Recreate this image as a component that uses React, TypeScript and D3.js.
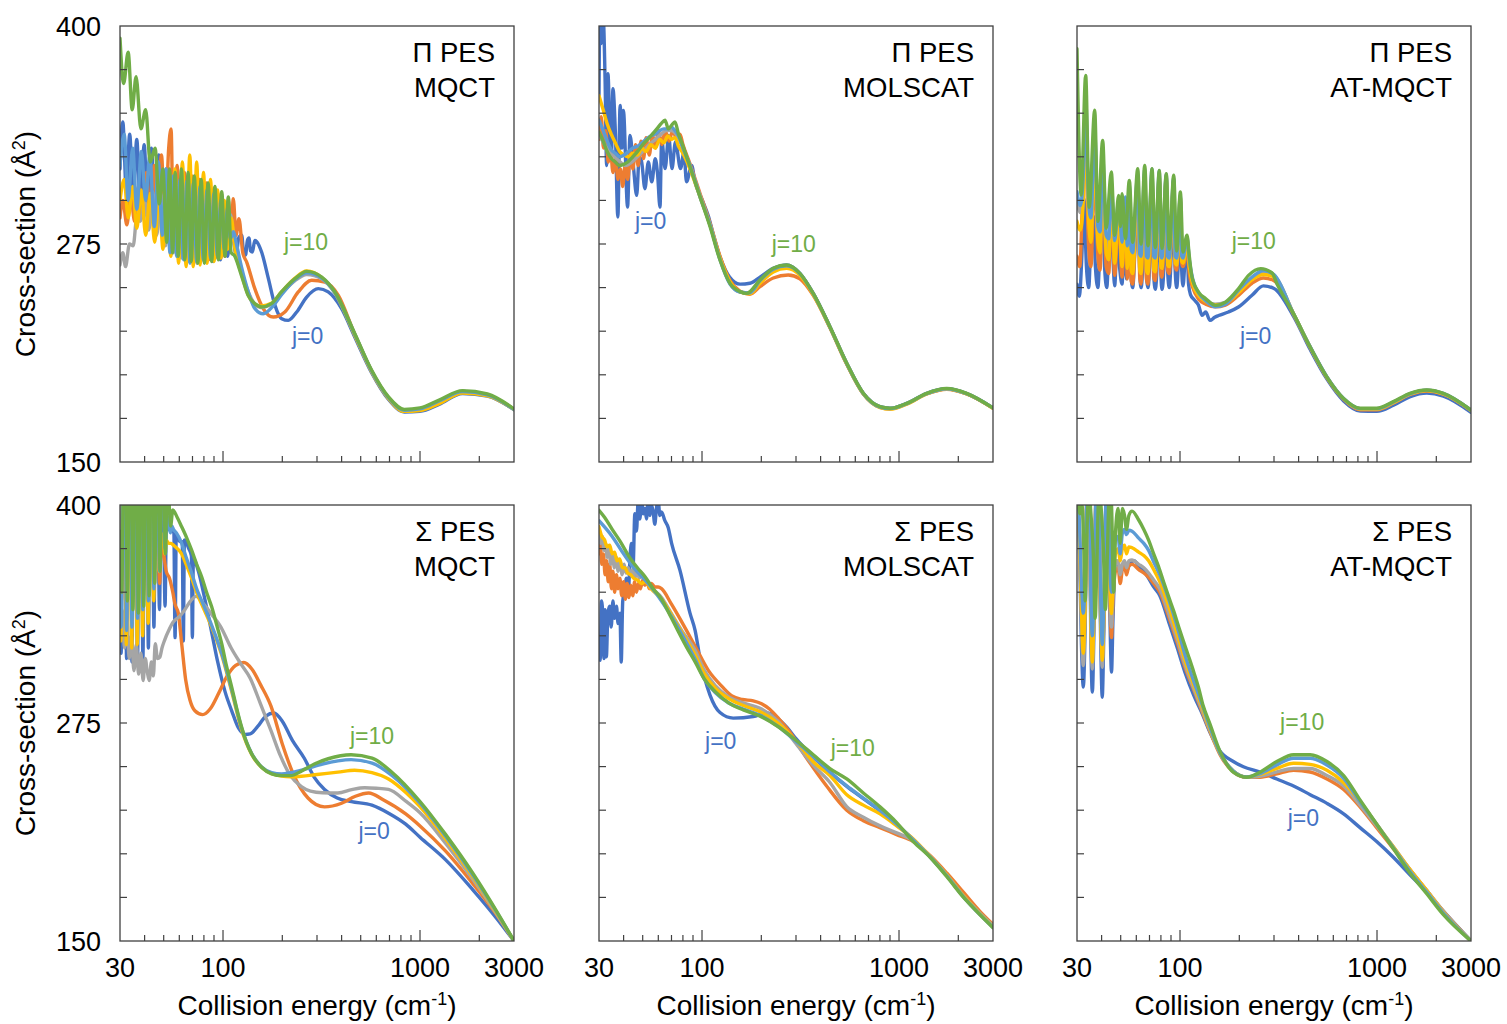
import React from 'react';
import * as d3 from 'd3';

type Pt = [number, number];

const COLORS = ['#4472C4', '#ED7D31', '#A5A5A5', '#FFC000', '#5B9BD5', '#70AD47'];
const Y_TICKS = [175, 200, 225, 250, 275, 300, 325, 350, 375];
const Y_LABELS = [150, 275, 400];
const X_MINOR = [40, 50, 60, 70, 80, 90, 200, 300, 400, 500, 600, 700, 800, 900, 2000];
const X_MAJOR = [100, 1000];
const X_LABELS = [30, 100, 1000, 3000];

// ---------- Π PES, MQCT ----------
const piMqctJ0: Pt[] = [[30,318],[31,345],[32.3,305],[33.6,338],[35,300],[36.5,335],[38,296],[39.8,332],[41.5,292],[43.3,330],[45.2,288],[47.2,326],[49.3,282],[51.4,318],[53.6,276],[56,314],[58.4,272],[61,312],[63.6,268],[66.3,310],[69.2,266],[72.2,308],[75.3,265],[78.5,306],[82,265],[85.5,304],[89.2,265],[93,302],[97,266],[101,298],[105.5,268],[110,286],[112.8,278],[116.5,269],[120.5,279],[124.4,280],[127,271],[130,268.5],[133,277],[135.5,278.4],[138,271],[141,270.4],[145,277],[148,276.5],[157,270.4],[170,255.1],[183.6,239.8],[198.5,232.2],[214.6,231.2],[236.6,236],[265.9,244.6],[304.7,249.4],[342,247.5],[400,237.9],[465,222],[566,201.5],[690,186],[832,178.7],[1000,179],[1250,183],[1646,189.3],[2200,187.8],[3000,180]];
const piMqctJ2: Pt[] = [[30,290],[31,300],[32.5,286],[34,303],[35.6,288],[37.2,308],[39,290],[40.8,316],[42.7,292],[44.6,320],[46.6,290],[48.7,326],[50.8,285],[53,330],[54.5,341],[56,278],[58.5,320],[61,272],[63.7,316],[66.5,268],[69.5,314],[72.5,266],[75.7,312],[79,266],[82.5,310],[86,266],[90,307],[94,267],[98,304],[102,268],[106.5,300],[109.5,276],[112.8,301],[116.5,280],[120.5,289.5],[126,270],[132,264.5],[145,249.4],[160,238],[180,233.1],[206,236],[241,247.5],[282,254.2],[329,253.2],[385,245.6],[465,223.5],[566,202.5],[690,187],[832,179.5],[1000,180],[1250,184.5],[1646,190.5],[2200,188.5],[3000,180.2]];
const piMqctJ4: Pt[] = [[30,263],[31,270],[32,262],[33.5,275],[35,274],[36.5,290],[38,288],[40,300],[42,283],[44,305],[46,280],[48.5,304],[51,274],[53.5,306],[56,270],[58.8,308],[61.5,267],[64.4,310],[67.4,265],[70.5,310],[73.7,264],[77,308],[80.5,265],[84,306],[88,266],[92,303],[96,268],[100,298],[104.5,272],[109,292],[114,276],[120,266],[130,252],[142,242],[155,238.5],[176,240.5],[198,246.5],[232,254],[266,257.5],[317,255],[370,247],[465,223.5],[566,202.5],[690,187],[832,179.7],[1000,180.5],[1250,185],[1646,190.4],[2200,188.5],[3000,180.2]];
const piMqctJ6: Pt[] = [[30,300],[31.5,312],[33,290],[34.8,308],[36.5,284],[38.5,306],[40.5,280],[42.7,304],[45,276],[47.3,302],[49.6,272],[52,300],[54.4,268],[57,318],[59.5,264],[62.2,322],[65,262],[67.8,326],[70.6,262],[73.5,322],[76.5,263],[79.6,316],[83,264],[86.4,312],[90,265],[93.8,306],[97.6,267],[101.5,300],[105.6,272],[110,290],[115,272],[124,258],[134,246],[145,240.5],[157,239.5],[176,241],[198,247.5],[232,255.5],[266,259.5],[317,255.8],[370,247],[465,223],[566,202],[690,186.5],[832,179],[1000,179.5],[1250,183.5],[1646,189.5],[2200,188],[3000,180]];
const piMqctJ8: Pt[] = [[30,320],[31.5,338],[33,300],[34.8,330],[36.5,295],[38.5,328],[40.5,300],[42.5,326],[44.8,285],[47,322],[49.2,280],[51.5,318],[53.8,270],[56,314],[58.2,268],[60.5,312],[63,266],[65.5,311],[68,264],[70.8,310],[73.5,265],[76.5,308],[79.5,266],[83,306],[86.5,267],[90,304],[93.8,268],[97.5,300],[101.5,272],[105.5,296],[109,278],[113,282],[117,275],[124,262],[134,248],[145,238],[160,235],[178,239],[200,246.5],[232,254.5],[266,258.5],[317,255.5],[370,247],[465,223.5],[566,202.5],[690,187],[832,179.7],[1000,180.5],[1250,185],[1646,190.4],[2200,188.5],[3000,180]];
const piMqctJ10: Pt[] = [[30,393],[31.3,367],[33,385],[34.6,352],[36.2,371],[38.3,341],[40.5,352],[42.7,322],[45.2,330],[47.5,298],[49.5,318],[51.8,276],[53.5,318],[55.5,270],[57.2,316],[59.3,268],[61.5,318],[64,266],[66.5,316],[69,265],[71.5,314],[74.5,264],[77.5,312],[80.5,264],[84,310],[87.6,265],[91,308],[94.7,266],[98.5,305],[102.4,268],[106.4,302],[110,270],[114,268.5],[124,257],[134,245.6],[145,240.8],[157,238.9],[176,240.8],[198,247.5],[232,255.1],[266,259.3],[317,256],[370,247.5],[465,224],[566,203],[690,187.5],[832,180.2],[1000,181],[1250,185.5],[1646,190.9],[2200,189],[3000,180.4]];

// ---------- Π PES, MOLSCAT ----------
const piMolJ0: Pt[] = [[30,360],[30.3,405],[30.8,390],[31.5,405],[32.2,370],[32.8,320],[33.3,372.7],[34,345],[34.7,325.8],[35.3,364.1],[36.3,340],[37.4,290.5],[38.4,354.5],[39.2,330],[39.9,351.6],[41.9,296.2],[43.1,337.3],[44.8,320],[46.6,302.9],[48,325],[49.4,322],[51.3,306.7],[53.4,322],[55.6,310.6],[57.9,323.9],[59.5,315],[61.2,296.2],[62.4,335.4],[65,318.2],[67.7,337.3],[70.4,318.2],[73.3,333.5],[77.8,318.2],[81,327.8],[83.4,310.6],[88.6,320],[92.1,310.6],[99.6,301],[107.7,291],[115,279],[124,267],[138,256],[156,252],[175,252.5],[197,256],[230,261],[269,263],[314,258.2],[367,246.7],[446,227.6],[543,206.6],[659,189.4],[801,181.7],[900,180.8],[1094,183.6],[1382,189.4],[1746,192],[2206,189.2],[3000,181]];
const piMolJ2: Pt[] = [[30,335],[30.8,348],[31.6,330],[32.5,340],[33.4,322],[34.3,330],[35.3,316],[36.4,324],[37.4,312],[38.5,318],[39.6,308],[40.7,320],[42,312],[43.3,328],[44.6,318],[46,332],[47.4,320],[49,334],[50.5,324],[52,336],[54,326],[56,338],[58,330],[60,340],[62.5,332],[65,340],[68,334],[71,340],[74,336],[77.3,338],[80,332],[86.9,321],[97.7,304],[109.8,287],[123.4,268],[138.7,254],[155.9,248],[175,246.2],[197,250.5],[230,255.5],[274,257.2],[314,255],[367,245.5],[446,227],[543,206],[659,189],[801,181.3],[900,180.4],[1094,183.3],[1382,189],[1746,191.7],[2206,189],[3000,180.8]];
const piMolJ4: Pt[] = [[30,338],[32,332],[34,328],[36,325],[38.5,322],[41,320],[44,322],[47,325],[50,328],[54,332],[58,335],[62,338],[66,340],[70,340],[74,338],[80,330],[86.9,320],[97.7,303],[109.8,286],[123.4,266.5],[138.7,252.5],[155.9,247.5],[175,247],[197,253.5],[230,260],[269,262],[314,257.8],[367,246.5],[446,227.4],[543,206.4],[659,189.2],[801,181.5],[900,180.6],[1094,183.5],[1382,189.2],[1746,192],[2206,189.2],[3000,181]];
const piMolJ6: Pt[] = [[30,360],[31.5,352],[33,344],[34.6,338],[36.3,333],[38.2,328],[40.2,326],[42.3,325],[44.6,327],[47,326],[49.5,330],[52,328],[55,332],[58,330],[61,335],[64,333],[67,337],[70,335],[73,336],[76,331],[80,327],[86.9,318],[97.7,302],[109.8,286],[123.4,267],[138.7,253.5],[155.9,247.5],[175,246.5],[197,252.5],[230,259],[269,261],[314,257],[367,246],[446,227.2],[543,206.2],[659,189],[801,181.2],[900,180.3],[1094,183.2],[1382,189],[1746,191.8],[2206,189],[3000,180.8]];
const piMolJ8: Pt[] = [[30,346],[31.5,340],[33,334],[34.6,329],[36.3,327],[38.2,325],[40.2,326],[42.3,328],[44.6,330],[47,331],[49.5,333],[52,335],[55,337],[58,338],[61,340],[64,341],[67,341],[70,342],[73,340],[76,337],[80,330],[86.9,320],[97.7,302],[109.8,286],[123.4,266],[138.7,252],[155.9,247.5],[175,247],[197,254],[230,260.5],[269,262.5],[314,258],[367,246.5],[446,227.4],[543,206.4],[659,189.2],[801,181.5],[900,180.6],[1094,183.5],[1382,189.2],[1746,192],[2206,189.2],[3000,181]];
const piMolJ10: Pt[] = [[30,339],[31.5,334],[33,328],[34.6,324],[36.3,322],[38,320],[39.8,320.5],[42,322],[44.5,325],[47,328],[50,332],[53,335],[56,338],[59,341],[62,344],[64.9,346],[67.5,341],[70,343],[72.9,345],[76,338],[79,333],[86.9,319.3],[97.7,302.1],[109.8,285],[123.4,265.8],[138.7,252.4],[155.9,247.7],[168.6,246.7],[197,254.4],[230,261.1],[269,263],[314,258.2],[367,246.7],[446,227.6],[543,206.6],[659,189.4],[801,181.7],[900,180.8],[1094,183.6],[1382,189.4],[1746,192.2],[2206,189.4],[3000,181]];

// ---------- Π PES, AT-MQCT ----------
const piAtJ0: Pt[] = [[30,252],[30.8,245],[31.8,270],[32.5,301],[33.5,262],[34.4,250],[35.5,285],[36.3,291],[37.2,262],[38.3,250],[39.5,282],[40.5,290],[41.5,260],[42.5,250],[44,285],[45.5,270],[46.6,251],[48,280],[49.5,260],[50.8,252],[52,278],[53.5,255],[55.3,300],[56.5,256],[57.5,250],[59,270],[61,310],[62.5,258],[63.4,250],[65,270],[66.2,312],[67.5,258],[68.8,250],[70.5,270],[72.1,312],[73.5,258],[74.9,249],[77,272],[78.5,312],[80,258],[81,249],[83.5,272],[85.2,314],[86.5,260],[88.2,250],[90.5,272],[92.9,312],[94.5,260],[96.2,250],[98.5,270],[100.4,300],[102,260],[103.6,251],[106,265],[108.5,275],[110.5,252],[113,246],[118,243],[124,240],[129.4,234.1],[135,236],[142,231.2],[150,233],[157,234],[176,236],[198,238.9],[232,245.6],[265,251],[300,249.5],[377,233.5],[458,214.5],[557,197.5],[677,185],[822,179.2],[998,179],[1212,182.5],[1475,187.5],[1790,189.5],[2172,187.8],[3000,178.5]];
const piAtJ2: Pt[] = [[30,268],[31,262],[32,300],[33.2,330],[34.3,275],[35.3,262],[36.9,320],[38.3,268],[39.3,260],[40.5,310],[42.2,262],[43.5,258],[44.8,300],[46.6,257],[48.8,290],[50.8,256],[52.8,295],[54,255],[55.3,305],[56.5,254],[57.5,252],[61,310],[62.5,255],[63.4,252],[66.2,312],[67.5,255],[68.8,252],[72.1,312],[73.5,256],[74.9,254],[78.5,312],[80,258],[81,256],[85.2,312],[86.5,260],[88.2,258],[92.9,310],[94.5,262],[96.2,260],[100.4,300],[102,264],[103.6,262],[108.5,272],[111.5,258],[116,250],[125,243],[135,240.5],[151,239],[170,240],[198,245.5],[232,252.5],[265,255.5],[300,254],[377,234.5],[458,215.5],[557,198.3],[677,186],[822,180],[998,180],[1212,183.8],[1475,188.7],[1790,190.7],[2172,188.9],[3000,179.5]];
const piAtJ4: Pt[] = [[30,300],[31.2,293],[32.3,310],[33.2,350],[34.3,295],[35.3,282],[36.9,335],[38.3,280],[39.3,275],[40.5,320],[42.2,274],[43.5,271],[44.8,308],[46.6,269],[48.8,298],[50.8,268],[52.8,300],[54,267],[55.3,308],[56.5,266],[57.5,265],[61,314],[62.5,266],[63.4,265],[66.2,316],[67.5,266],[68.8,265],[72.1,316],[73.5,266],[74.9,265],[78.5,315],[80,266],[81,265],[85.2,314],[86.5,266],[88.2,265],[92.9,312],[94.5,266],[96.2,265],[100.4,302],[102,266],[103.6,265],[108.5,278],[111.5,265],[116,254],[125,246],[135,242.5],[151,240.5],[170,241.5],[198,248],[232,255.5],[265,259],[300,257],[377,235],[458,216],[557,198.7],[677,186.3],[822,180.5],[998,180.5],[1212,184.2],[1475,189.1],[1790,191.1],[2172,189.2],[3000,179.7]];
const piAtJ6: Pt[] = [[30,288],[31.2,283],[32.3,300],[33.2,345],[34.3,290],[35.3,276],[36.9,330],[38.3,276],[39.3,270],[40.5,318],[42.2,270],[43.5,266],[44.8,305],[46.6,264],[48.8,295],[50.8,262],[52.8,298],[54,261],[55.3,306],[56.5,260],[57.5,258],[61,312],[62.5,260],[63.4,258],[66.2,314],[67.5,260],[68.8,258],[72.1,314],[73.5,260],[74.9,259],[78.5,314],[80,262],[81,261],[85.2,313],[86.5,263],[88.2,262],[92.9,311],[94.5,264],[96.2,263],[100.4,302],[102,265],[103.6,264],[108.5,275],[111.5,262],[116,252],[125,245],[135,242],[151,240],[170,241],[198,247],[232,254.5],[265,257.5],[300,256],[377,235],[458,215.8],[557,198.5],[677,186.2],[822,180.3],[998,180.3],[1212,184],[1475,189],[1790,191],[2172,189],[3000,179.6]];
const piAtJ8: Pt[] = [[30,305],[31.2,297],[32.3,315],[33.2,360],[34.3,300],[35.3,290],[36.9,340],[38.3,285],[39.3,282],[40.5,325],[42.2,280],[43.5,278],[44.8,310],[46.6,277],[48.8,300],[50.8,276],[52.8,302],[54,274],[55.3,309],[56.5,272],[57.5,270],[61,315],[62.5,269],[63.4,268],[66.2,318],[67.5,268],[68.8,267],[72.1,318],[73.5,268],[74.9,267],[78.5,317],[80,268],[81,267],[85.2,315],[86.5,268],[88.2,267],[92.9,313],[94.5,268],[96.2,267],[100.4,303],[102,268],[103.6,267],[108.5,279],[111.5,266],[116,255],[125,246.5],[135,242.5],[151,239],[170,240.5],[198,248.5],[232,256],[265,259.8],[300,257.5],[377,235],[458,216],[557,198.8],[677,186.4],[822,180.6],[998,180.6],[1212,184.4],[1475,189.2],[1790,191.2],[2172,189.3],[3000,179.7]];
const piAtJ10: Pt[] = [[30,387],[31.5,303],[33.2,371.7],[34.6,296],[36.9,351.7],[38.3,288],[40.5,334.4],[42.2,284],[44.8,316.3],[46.6,280],[48.8,302.9],[49.8,285],[50.8,303.9],[52.8,278],[55.3,311.5],[57.5,276],[61,318.2],[63.4,275],[66.2,320.1],[68.8,274],[72.1,318.2],[74.9,273],[78.5,317.2],[81,272.5],[85.2,315.3],[88.2,272],[92.9,314.4],[96.2,271],[100.4,304.8],[103.6,270.4],[108.5,280],[111.5,268],[115,256],[125,247],[134.8,243.7],[151.4,239.8],[170.1,241.7],[198.4,249.4],[222.8,257],[256.7,260.9],[293,258.5],[310,252.4],[376,235.2],[457,216.1],[555,198.9],[674,186.5],[820,180.8],[996,180.8],[1210,184.6],[1470,189.4],[1788,191.3],[2172,189.4],[3000,179.8]];

// ---------- Σ PES, MQCT ----------
const sgMqctJ0: Pt[] = [[30,330],[30.4,315],[31,410],[31.8,408],[32.4,312],[33,410],[33.9,408],[34.5,310],[35.2,410],[36.1,408],[36.8,308],[37.5,410],[38.5,408],[39.2,312],[40,410],[41,408],[41.8,318],[42.6,408],[43.7,405],[44.6,330],[45.4,400],[46.6,398],[47.6,340],[48.4,395],[49.8,392],[50.8,342],[51.6,390],[53,386],[55.6,385],[56.3,384],[57.1,324],[57.9,383],[60.5,379],[62.1,379],[62.9,322],[63.7,380],[67,375],[69.1,371],[69.9,324],[70.7,369],[75,362],[80.5,347],[87.6,327],[94,310],[102.4,293],[110.7,282],[120,272],[130,268.5],[137.4,268.8],[150,273],[165,279],[181,280.7],[200,276],[225,265],[258.6,254.8],[290,244],[327.6,236.9],[380,232],[449,229.9],[570,227.9],[700,223],[846,217],[1000,209.5],[1350,196.5],[1850,179.5],[2450,163],[3000,150]];
const sgMqctJ2: Pt[] = [[30,366],[30.5,345],[31.1,385],[31.9,382],[32.5,342],[33.1,388],[34,385],[34.6,340],[35.3,390],[36.2,386],[36.9,342],[37.6,390],[38.6,386],[39.3,345],[40.1,390],[41.1,386],[41.9,348],[42.7,388],[43.8,384],[44.7,352],[45.5,385],[46.7,380],[47.7,355],[48.5,378],[49.9,372],[51.5,362],[53.5,358],[55.6,350],[57.1,343],[59.3,338],[61.7,320.5],[64.6,300],[68,288],[72,282],[78.8,279.8],[86,283],[95,292],[105,302],[116,308],[127.6,309.7],[140,306],[155,297],[175,284.8],[200,263],[229,244.9],[270,232],[327.6,226.9],[400,229],[470,233],[549,234.9],[650,231],[846,222.9],[1000,216],[1350,201.5],[1850,183],[2450,165],[3000,150]];
const sgMqctJ4: Pt[] = [[30,326],[30.8,340],[31.6,318],[32.5,335],[33.4,312],[34.3,325],[35.3,305],[36.3,320],[37.3,303],[38.3,315],[39.3,299.4],[40.3,312],[41.2,305],[42.2,299.4],[43.3,310],[44.3,302],[45.3,320.5],[46.5,312],[47.8,312.8],[49,318],[50.5,322.4],[53,328],[56,333],[60,336],[64,340],[68.5,345],[72.9,347.6],[80,343],[88,337],[96.9,330.6],[110,318],[123,309],[137.4,300.7],[155,286],[175,270.8],[196,256],[220,244.8],[250,238.5],[278,235.9],[320,235],[383,234.9],[450,236.8],[524,237.9],[600,237.6],[692,236.9],[850,230],[1000,223.5],[1350,206],[1850,185.5],[2450,165.5],[3000,150]];
const sgMqctJ6: Pt[] = [[30,340],[30.3,322],[30.9,410],[31.7,405],[32.3,320],[32.9,410],[33.8,405],[34.4,318],[35.1,410],[36,405],[36.7,320],[37.4,408],[38.4,402],[39.1,325],[39.9,405],[40.9,398],[41.7,332],[42.5,400],[43.6,392],[44.5,345],[45.3,392],[46.5,385],[47.5,362],[48.3,384],[49.7,380],[50.7,372],[51.5,380],[53,378],[54.5,378],[56,377],[58,375.5],[61.7,372],[65,366],[69.3,358],[74,349],[78,343],[87.6,330],[98.5,314],[110.7,293],[124.4,271],[139.8,257],[157.1,249.5],[176.6,246],[198.5,244.6],[220,244.2],[250,244.5],[300,245.5],[383,246.8],[465,247.9],[570,246.5],[692,242.9],[850,235],[1000,227],[1350,208.5],[1850,187],[2450,166],[3000,150]];
const sgMqctJ8: Pt[] = [[30,345],[30.4,330],[31,420],[31.8,418],[32.4,328],[33,420],[33.9,418],[34.5,330],[35.2,420],[36.1,418],[36.8,335],[37.5,420],[38.5,418],[39.2,340],[40,420],[41,418],[41.8,345],[42.6,420],[43.7,418],[44.6,352],[45.4,418],[46.6,412],[47.6,362],[48.4,405],[49.8,398],[50.8,375],[51.6,395],[53,390],[54,384],[55,388],[56,386],[58,384],[61.7,378],[65,370],[69.3,361],[74,351],[78,345],[87.6,331],[98.5,315],[110.7,294],[124.4,272],[139.8,257.5],[157.1,249.8],[176.6,246.5],[198.5,245.8],[220,246.5],[260,248.5],[320,251.5],[383,253.3],[447,254],[571,252],[720,245],[1000,229],[1350,210],[1850,188],[2450,166.5],[3000,150]];
const sgMqctJ10: Pt[] = [[30,385],[30.6,350],[31.3,420],[32.1,418],[32.7,345],[33.4,420],[34.2,418],[34.9,340],[35.6,420],[36.5,418],[37.2,338],[38,420],[38.9,418],[39.6,342],[40.4,420],[41.4,418],[42.2,348],[43.1,420],[44.1,418],[45,355],[45.9,420],[47,418],[47.9,362],[48.9,420],[50.1,416],[51,372],[52,410],[53.3,400],[54.2,388],[55.6,397.1],[58.5,393],[61.7,387.5],[65.5,381],[69.3,374.1],[73.5,366],[77.9,358.8],[82.5,350],[87.6,341.6],[93,331],[98.5,320.5],[104,308],[110.7,295.6],[117,284],[124.4,272.6],[131.5,264],[139.8,257.3],[157.1,249.6],[176.6,245.8],[198.5,244.8],[220,244.8],[251,247.5],[291,251.5],[342,254.5],[447,256.8],[571,254.8],[720,246.8],[1000,230],[1350,211],[1850,189],[2450,167],[3000,150]];

// ---------- Σ PES, MOLSCAT ----------
const sgMolJ0: Pt[] = [[30,325],[30.4,311],[30.9,345],[31.4,335],[31.8,312],[32.2,340],[32.7,313],[33.3,338],[34,342],[34.6,330],[35.3,345],[36,335],[36.8,342],[37.5,332],[38.3,338],[38.9,310],[39.6,345],[40.6,351],[41.3,358],[42.2,348],[43.2,372],[43.9,378],[44.7,365],[45.6,395],[46.5,385],[47.4,402],[48.4,392],[49.3,405],[50.3,395],[51.3,398],[52.3,392],[53.3,405],[54.4,394],[55.4,400],[56.5,396],[57.6,389],[58.7,398],[59.9,403],[61.1,394],[62.3,396],[64.8,391],[67.4,387],[70.1,378],[77.3,362.5],[86.9,338],[92.3,328],[97.7,312],[109.8,291],[123.4,281],[144,277.8],[182,278.7],[213,280.7],[240,278],[270,272.5],[300,266],[367,255.5],[446,246.7],[543,238.7],[659,231.7],[801,224.7],[973,216.9],[1182,208],[1438,198.3],[1746,187.5],[2121,175.5],[2574,165.3],[3000,157.8]];
const sgMolJ2: Pt[] = [[30,372],[30.5,378],[31,366],[31.6,372],[32.2,360],[32.8,368],[33.4,356],[34,366],[34.7,352],[35.3,362],[36,350],[36.8,360],[37.5,352],[38.3,358],[39.1,348],[40,356],[40.8,346],[41.7,355],[42.6,347],[43.5,354],[44.5,348],[45.5,356],[46.5,350],[47.6,355],[48.7,352],[50,357],[51.3,354],[52.7,356],[54,352],[55.4,355],[57.6,353],[59.9,353],[62.3,352],[70.1,343],[78.9,333],[92.3,319],[107.9,305],[126.2,296],[142,290.5],[160,288.5],[182,287.7],[200.7,286],[220,283],[245,277.5],[276,270.5],[340,254.8],[429,238.9],[543,225],[659,219],[801,215],[973,211],[1182,207],[1438,199],[1746,189],[2121,178],[2574,167],[3000,159.5]];
const sgMolJ4: Pt[] = [[30,383.7],[30.6,378],[31.2,382],[31.8,374],[32.4,378],[33,370],[33.7,375],[34.4,366],[35.1,372],[35.9,364],[36.7,370],[37.5,362],[38.4,368],[39.3,360],[40.2,366],[41.2,361],[42.2,364],[43.3,360],[44.5,363],[45.6,358],[46.8,362],[48,358],[49.5,360],[51.3,358],[55,353],[62.3,347],[70.1,337.5],[78.9,328],[92.3,316.7],[103,305],[116.7,296.5],[136.5,290],[162,286.5],[200.7,283],[243,276],[296,264],[367,250.8],[446,240.9],[543,227],[659,221],[801,216],[973,212],[1182,207.5],[1438,198.5],[1746,188],[2121,176],[2574,166],[3000,158.8]];
const sgMolJ6: Pt[] = [[30,387.5],[31,382],[32,380],[33,376],[34,377],[35,372],[36,373],[37,368],[38.2,369],[39.4,364],[40.6,364],[42,361],[43.5,360],[45,358],[47,357],[49.3,355],[51.3,356],[55,352],[62.3,346],[70.1,337],[78.9,327],[92.3,314],[103,303],[116.7,295],[136.5,289],[162,285],[200.7,281],[243,275],[296,265.5],[367,252.8],[446,244.9],[543,233.9],[659,227.9],[801,222.9],[973,216],[1182,208.5],[1438,198.5],[1746,188],[2121,176],[2574,165.5],[3000,158.3]];
const sgMolJ8: Pt[] = [[30,391],[35,382],[40,372],[45,364],[51.3,357],[56,352],[62.3,345],[70.1,336],[78.9,326],[92.3,311.5],[103,300],[116.7,292.5],[136.5,286.5],[162,283],[200.7,279],[243,273],[296,265],[367,255.8],[446,246.9],[543,238.9],[659,231.9],[801,224.9],[973,217],[1182,208],[1438,198.3],[1746,187.5],[2121,175.5],[2574,165.3],[3000,158]];
const sgMolJ10: Pt[] = [[30,397],[32,393],[35,386],[38.5,379],[42.3,371],[47,364],[51.3,359],[56.5,352],[62.3,346],[69,336.5],[75.8,327.5],[83.5,318.5],[92.3,310],[103,300],[116.7,293],[136.5,286.5],[162,282.5],[200.7,278.5],[243,273],[302,264.8],[367,256.8],[446,248.9],[543,242.9],[659,234.9],[801,226.9],[973,217.9],[1182,207],[1438,198],[1746,187],[2121,175.1],[2574,165.1],[3000,157.6]];

// ---------- Σ PES, AT-MQCT ----------
const sgAtJ0: Pt[] = [[30,405],[30.8,380],[31.6,320],[32.3,295.6],[33,330],[33.8,410],[34.6,410],[35.3,320],[35.9,292.7],[36.6,330],[37.6,410],[38.6,410],[39.6,320],[40.3,289.8],[41.1,330],[42.3,410],[43.3,400],[44.2,330],[44.9,304.2],[45.7,335],[47,368],[48.5,366],[49.7,360],[51,366],[53.5,362],[56,367],[58.5,368],[61.7,365],[65.5,362],[69.3,358],[73.5,353],[79,348],[87.6,333],[96.9,318],[106,304],[117.6,290.7],[130,280],[141.5,270],[159.4,259],[186.5,252.9],[209.8,249.9],[254.8,246.9],[310,242.9],[377,238.9],[458,233.9],[557,228.9],[677,222.9],[820,215],[996,207],[1210,198],[1470,188],[1788,178],[2172,167.1],[3000,150]];
const sgAtJ2: Pt[] = [[30,400],[30.8,385],[31.6,340],[32.3,318],[33,345],[33.8,410],[34.6,410],[35.3,335],[35.9,314],[36.6,340],[37.6,410],[38.6,405],[39.6,335],[40.3,312],[41.1,338],[42.3,405],[43.3,395],[44.2,340],[44.9,324],[45.7,345],[47,362],[48.5,364],[49.7,355],[51,363],[52.3,365],[53.5,360],[55,365],[57.1,366],[61.7,363],[65.5,361],[69.3,358.5],[73.5,355],[79,350],[87.6,336],[96.9,321],[106,307],[117.6,293.7],[130,281],[141.5,270.5],[159.4,257],[186.5,247],[218,243.9],[254.8,243.9],[310,245.9],[377,247.9],[458,246.9],[557,242.9],[677,236.9],[820,226.9],[996,215],[1210,203],[1470,191],[1788,179],[2172,167.1],[3000,150]];
const sgAtJ4: Pt[] = [[30,402],[30.8,382],[31.6,330],[32.3,308],[33,340],[33.8,410],[34.6,410],[35.3,330],[35.9,306],[36.6,340],[37.6,410],[38.6,405],[39.6,330],[40.3,307],[41.1,338],[42.3,405],[43.3,398],[44.2,345],[44.9,330],[45.7,350],[47,366],[48.5,368],[49.7,360],[51,366],[52.3,368],[53.5,364],[55,368],[57.1,368.5],[61.7,366],[65.5,364],[69.3,361],[73.5,357],[79,352],[87.6,338],[96.9,323],[106,308.5],[117.6,294.7],[130,282],[141.5,271],[159.4,257.5],[186.5,247.3],[218,244],[254.8,244.5],[310,247],[377,248.9],[458,248.9],[557,244.9],[677,238.9],[820,227.9],[996,216],[1210,204],[1470,191],[1788,179],[2172,167],[3000,150]];
const sgAtJ6: Pt[] = [[30,405],[30.8,388],[31.6,340],[32.3,315],[33,345],[33.8,410],[34.6,410],[35.3,335],[35.9,310],[36.6,342],[37.6,410],[38.6,405],[39.6,335],[40.3,311],[41.1,340],[42.3,405],[43.3,400],[44.2,350],[44.9,337.7],[45.7,355],[47,372],[48.5,375],[49.7,368],[51,375],[52.3,377],[53.5,372],[55,376],[57.1,375.5],[61.7,373],[65.5,371],[69.3,368],[73.5,363],[79,356],[87.6,342],[96.9,326],[106,311],[117.6,296.7],[130,283.5],[141.5,272],[159.4,257.8],[186.5,247.5],[218,244],[254.8,245.5],[310,249],[377,251.9],[458,251.3],[557,247.9],[677,240.9],[820,229.9],[996,217],[1210,204],[1470,191],[1788,179],[2172,166.5],[3000,150]];
const sgAtJ8: Pt[] = [[30,408],[30.8,392],[31.6,355],[32.3,338],[33,358],[33.8,410],[34.6,410],[35.3,345],[35.9,325],[36.6,350],[37.6,410],[38.6,408],[39.6,345],[40.3,320],[41.1,348],[42.3,408],[43.3,402],[44.2,360],[44.9,350],[45.7,365],[47,380],[48.5,382],[49.7,372],[51,384],[52.3,386],[53.5,383],[55,385.5],[57.1,385],[61.7,381],[65.5,378],[69.3,374],[73.5,367.5],[79,360],[87.6,346],[96.9,330],[106,314],[117.6,298.7],[130,285],[141.5,273],[159.4,258],[186.5,247.5],[218,244],[254.8,246],[310,251],[377,254.8],[458,254.8],[557,250.9],[677,243.3],[820,229.9],[996,217],[1210,203.5],[1470,190],[1788,178],[2172,166],[3000,150]];
const sgAtJ10: Pt[] = [[30,410],[31,395],[31.8,400],[32.4,380],[33,345],[33.6,380],[34.4,410],[35.3,395],[36.3,372],[37.1,335],[37.9,370],[38.8,410],[39.8,398],[40.8,375],[41.8,340],[42.8,372],[43.8,410],[44.9,400],[46,350],[47.1,385],[48.5,398],[49.7,378],[51,398],[52.3,394],[53.5,386],[55,394],[57.1,396.5],[61.7,391.4],[65.5,386],[69.3,379.9],[73.5,372],[77.9,364.6],[82.5,356],[87.6,347.3],[93,339],[98.5,330.1],[104,322],[110.7,313],[117.6,304],[124.4,295],[131,285],[141.5,274.8],[159.4,258.9],[186.5,246.8],[218,243.9],[254.8,246.8],[310,252.9],[377,256.8],[458,256.8],[557,252.9],[677,244.9],[820,230.9],[996,216.9],[1210,203],[1470,189],[1788,177.1],[2172,165.1],[3000,150]];

const PANELS = [
  { row: 0, col: 0, pes: 'Π PES', method: 'MQCT', series: [piMqctJ0, piMqctJ2, piMqctJ4, piMqctJ6, piMqctJ8, piMqctJ10], j10: [204, 271.6] as Pt, j0: [224, 217.7] as Pt },
  { row: 0, col: 1, pes: 'Π PES', method: 'MOLSCAT', series: [piMolJ0, piMolJ2, piMolJ4, piMolJ6, piMolJ8, piMolJ10], j10: [225.8, 270.4] as Pt, j0: [45.7, 283.6] as Pt },
  { row: 0, col: 2, pes: 'Π PES', method: 'AT-MQCT', series: [piAtJ0, piAtJ2, piAtJ4, piAtJ6, piAtJ8, piAtJ10], j10: [183, 272.1] as Pt, j0: [201.6, 217.7] as Pt },
  { row: 1, col: 0, pes: 'Σ PES', method: 'MQCT', series: [sgMqctJ0, sgMqctJ2, sgMqctJ4, sgMqctJ6, sgMqctJ8, sgMqctJ10], j10: [441, 263.2] as Pt, j0: [487, 208.6] as Pt },
  { row: 1, col: 1, pes: 'Σ PES', method: 'MOLSCAT', series: [sgMolJ0, sgMolJ2, sgMolJ4, sgMolJ6, sgMolJ8, sgMolJ10], j10: [450, 256.3] as Pt, j0: [103.6, 260.3] as Pt },
  { row: 1, col: 2, pes: 'Σ PES', method: 'AT-MQCT', series: [sgAtJ0, sgAtJ2, sgAtJ4, sgAtJ6, sgAtJ8, sgAtJ10], j10: [322, 270.7] as Pt, j0: [352, 216.1] as Pt },
];

const COL_LEFT = [120, 599, 1077];
const ROW_TOP = [26, 505];
const W = 394;
const H = 436;
const FONT = "'Liberation Sans', Arial, Helvetica, sans-serif";

function Panel({ p, idx }: { p: typeof PANELS[number]; idx: number }) {
  const left = COL_LEFT[p.col];
  const top = ROW_TOP[p.row];
  const x = d3.scaleLog().domain([30, 3000]).range([left, left + W]);
  const y = d3.scaleLinear().domain([150, 400]).range([top + H, top]);
  const line = d3
    .line<Pt>()
    .x((d) => x(d[0]))
    .y((d) => y(d[1]))
    .curve(d3.curveMonotoneX);
  const clipId = `clip-${idx}`;
  const showY = p.col === 0;
  const showX = p.row === 1;
  return (
    <g>
      <defs>
        <clipPath id={clipId}>
          <rect x={left} y={top} width={W} height={H} />
        </clipPath>
      </defs>
      <g clipPath={`url(#${clipId})`}>
        {p.series.map((s, i) => (
          <path
            key={i}
            d={line([...s].sort((a, b) => a[0] - b[0])) || ''}
            fill="none"
            stroke={COLORS[i]}
            strokeWidth={3.4}
            strokeLinejoin="round"
            strokeLinecap="round"
          />
        ))}
      </g>
      {Y_TICKS.map((t) => (
        <line key={'yt' + t} x1={left} x2={left + 7} y1={y(t)} y2={y(t)} stroke="#404040" strokeWidth={1.2} />
      ))}
      {X_MINOR.map((t) => (
        <line key={'xm' + t} x1={x(t)} x2={x(t)} y1={top + H} y2={top + H - 6} stroke="#404040" strokeWidth={1.2} />
      ))}
      {X_MAJOR.map((t) => (
        <line key={'xM' + t} x1={x(t)} x2={x(t)} y1={top + H} y2={top + H - 11} stroke="#404040" strokeWidth={1.2} />
      ))}
      <rect x={left} y={top} width={W} height={H} fill="none" stroke="#404040" strokeWidth={1.3} />
      <text x={left + W - 19} y={top + 36} textAnchor="end" fontSize={27.5} fill="#000">{p.pes}</text>
      <text x={left + W - 19} y={top + 71} textAnchor="end" fontSize={27.5} fill="#000">{p.method}</text>
      <text x={x(p.j10[0])} y={y(p.j10[1])} fontSize={23} fill={COLORS[5]}>j=10</text>
      <text x={x(p.j0[0])} y={y(p.j0[1])} fontSize={23} fill={COLORS[0]}>j=0</text>
      {showY &&
        Y_LABELS.map((t) => (
          <text key={'yl' + t} x={101} y={y(t) + 9.5} textAnchor="end" fontSize={27} fill="#000">{t}</text>
        ))}
      {showY && (
        <text transform={`translate(35, ${top + H / 2}) rotate(-90)`} textAnchor="middle" fontSize={28} fill="#000">
          Cross-section (Å<tspan dy={-10} fontSize={18}>2</tspan><tspan dy={10}>)</tspan>
        </text>
      )}
      {showX &&
        X_LABELS.map((t) => (
          <text key={'xl' + t} x={x(t)} y={977} textAnchor="middle" fontSize={27} fill="#000">{t}</text>
        ))}
      {showX && (
        <text x={left + W / 2} y={1015} textAnchor="middle" fontSize={28} fill="#000">
          Collision energy (cm<tspan dy={-10} fontSize={18}>-1</tspan><tspan dy={10}>)</tspan>
        </text>
      )}
    </g>
  );
}

export default function App() {
  return (
    <svg
      width={1507}
      height={1024}
      viewBox="0 0 1507 1024"
      style={{ position: 'absolute', left: 0, top: 0, background: '#fff' }}
      fontFamily={FONT}
    >
      <rect x={0} y={0} width={1507} height={1024} fill="#fff" />
      {PANELS.map((p, i) => (
        <Panel key={i} p={p} idx={i} />
      ))}
    </svg>
  );
}
